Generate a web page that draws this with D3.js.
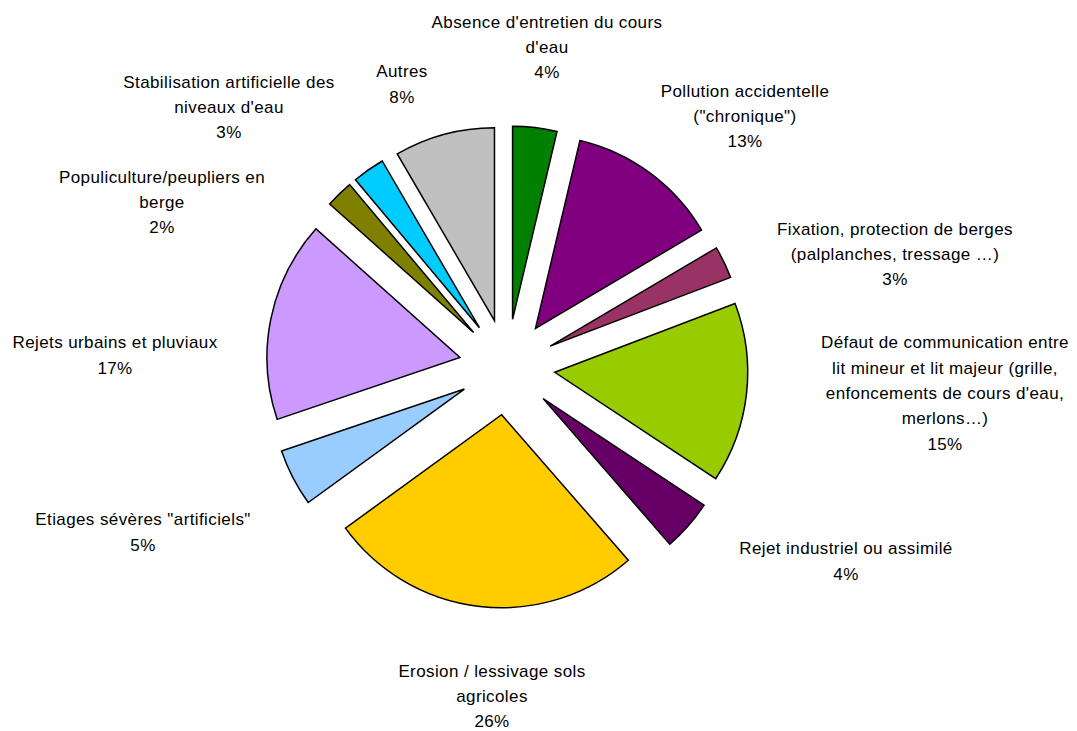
<!DOCTYPE html>
<html>
<head>
<meta charset="utf-8">
<script src="https://cdn.jsdelivr.net/npm/d3@7"></script>
<style>
  html, body { margin: 0; padding: 0; background: #fff; }
  svg text { font-family: "Liberation Sans", Arial, sans-serif; font-size: 17px; letter-spacing: 0.4px; fill: #000; }
</style>
</head>
<body>
<svg id="chart" width="1077" height="731"></svg>
<script>
// ---- data ----
const categories = [
  "Absence d'entretien du cours d'eau",
  "Pollution accidentelle (\"chronique\")",
  "Fixation, protection de berges (palplanches, tressage …)",
  "Défaut de communication entre lit mineur et lit majeur (grille, enfoncements de cours d'eau, merlons…)",
  "Rejet industriel ou assimilé",
  "Erosion / lessivage sols agricoles",
  "Etiages sévères \"artificiels\"",
  "Rejets urbains et pluviaux",
  "Populiculture/peupliers en berge",
  "Stabilisation artificielle des niveaux d'eau",
  "Autres"
];
const values = [3.7, 12.8, 2.7, 15.1, 4.3, 26.4, 4.8, 16.8, 2.3, 2.7, 8.4];
// label text broken into lines as in the reference
const labelLines = [
  ["Absence d'entretien du cours", "d'eau"],
  ["Pollution accidentelle", "(\"chronique\")"],
  ["Fixation, protection de berges", "(palplanches, tressage …)"],
  ["Défaut de communication entre", "lit mineur et lit majeur (grille,", "enfoncements de cours d'eau,", "merlons…)"],
  ["Rejet industriel ou assimilé"],
  ["Erosion / lessivage sols", "agricoles"],
  ["Etiages sévères \"artificiels\""],
  ["Rejets urbains et pluviaux"],
  ["Populiculture/peupliers en", "berge"],
  ["Stabilisation artificielle des", "niveaux d'eau"],
  ["Autres"]
];

// ---- styles / layout ----
const colors = ["#008000", "#800080", "#993366", "#99CC00", "#660066", "#FFCC00",
                "#99CCFF", "#CC99FF", "#808000", "#00CCFF", "#C0C0C0"];
// label block centres (x, y of block centre)
const labelPos = [
  [547, 47], [745, 116], [895, 254], [945, 393], [846, 561], [492, 696],
  [143, 532], [115, 355], [162, 202], [229, 107], [402, 84]
];
const cx = 507, cy = 367, R = 193, explode = 48, lineH = 25.3;

const svg = d3.select("#chart");
const total = d3.sum(values);
const pie = d3.pie().sort(null).value(d => d)(values);
const arc = d3.arc().innerRadius(0).outerRadius(R);

const g = svg.append("g").attr("transform", `translate(${cx},${cy})`);
g.selectAll("path.slice")
  .data(pie)
  .join("path")
  .attr("class", "slice")
  .attr("d", arc)
  .attr("transform", d => {
    const m = (d.startAngle + d.endAngle) / 2;
    return `translate(${explode * Math.sin(m)},${-explode * Math.cos(m)})`;
  })
  .attr("fill", (d, i) => colors[i])
  .attr("stroke", "#000")
  .attr("stroke-width", 1.5)
  .attr("stroke-linejoin", "miter");

const labels = svg.append("g");
pie.forEach((d, i) => {
  const lines = labelLines[i].concat([Math.round(d.value / total * 100) + "%"]);
  const [lx, ly] = labelPos[i];
  const y0 = ly - (lines.length - 1) * lineH / 2;
  const t = labels.append("text")
    .attr("text-anchor", "middle")
    .attr("dominant-baseline", "central");
  lines.forEach((s, k) => {
    t.append("tspan").attr("x", lx).attr("y", y0 + k * lineH).text(s);
  });
});
</script>
</body>
</html>
